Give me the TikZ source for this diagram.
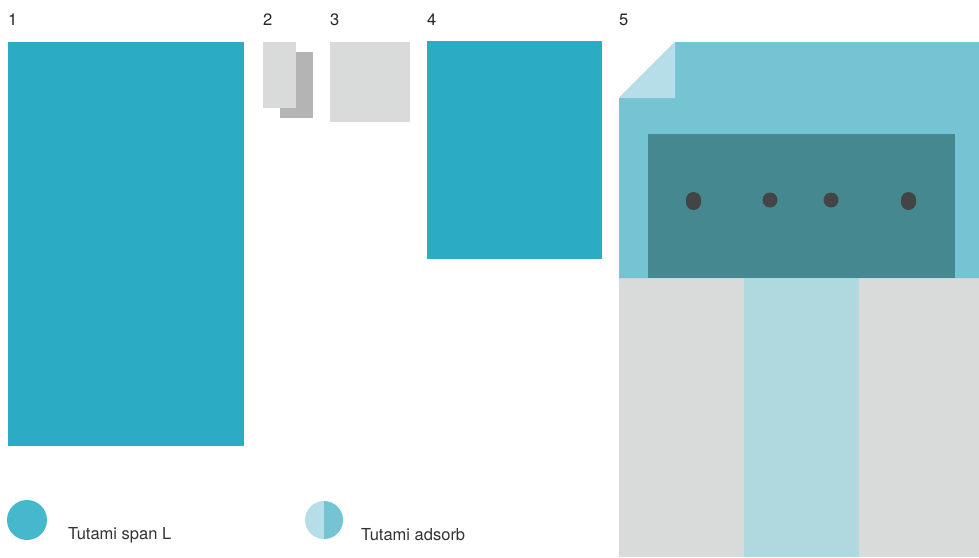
\documentclass[tikz,border=0pt]{standalone}
\usepackage{fontspec}
\setmainfont{TeX Gyre Heros}
\usetikzlibrary{positioning}
\definecolor{tealbar}{HTML}{2BABC4}
\definecolor{lightgrey}{HTML}{D9DADA}
\definecolor{midgrey}{HTML}{B3B4B3}
\definecolor{skyblue}{HTML}{74C4D3}
\definecolor{paleblue}{HTML}{B6DEE8}
\definecolor{darkteal}{HTML}{458890}
\definecolor{stripeblue}{HTML}{B0D9DF}
\definecolor{dotgrey}{HTML}{444444}
\definecolor{legendblue}{HTML}{46B8CD}

\begin{document}
\begin{tikzpicture}[x=1pt, y=-1pt,
  lbl/.style={anchor=base west, inner sep=0pt, font=\fontsize{16.5}{18}\selectfont, text=black!85},
  legendtext/.style={anchor=base west, inner sep=0pt, font=\fontsize{16.5}{18}\selectfont, text=black!80}]
  \useasboundingbox[fill=white] (0,0) rectangle (979,557);

  % panel numbers
  \foreach \x/\n/\name in {8/1/one, 263/2/two, 330/3/three, 427/4/four, 619/5/five} {
    \node[lbl] (num\name) at (\x,25) {\n};
  }

  % 1, 2, 3, 4
  \fill[tealbar] (8,42) rectangle (244,446);
  \fill[midgrey] (280,52) rectangle (313,118);
  \fill[lightgrey] (263,42) rectangle (296,108);
  \fill[lightgrey] (330,42) rectangle (410,122);
  \fill[tealbar] (427,41) rectangle (602,259);

  % 5
  \fill[lightgrey] (619,278) rectangle (979,557);
  \fill[stripeblue] (744,278) rectangle (859,557);
  \fill[skyblue] (619,98) -- (675,42) -- (979,42) -- (979,278) -- (619,278) -- cycle;
  \fill[paleblue] (619,98) -- (675,42) -- (675,98) -- cycle;
  \fill[darkteal] (648,134) rectangle (955,278);
  \fill[dotgrey, rounded corners=7.5pt] (686,192) rectangle (701,210);
  \fill[dotgrey, rounded corners=7.5pt] (901,192) rectangle (916,210);
  \fill[dotgrey] (770,200) circle (7.5);
  \fill[dotgrey] (831,200) circle (7.5);

  % legend
  \fill[legendblue] (27,520) circle (20);
  \node[legendtext] (spanL) at (68,539) {Tutami span L};
  \fill[paleblue] (324,539) arc (90:270:19) -- cycle;
  \fill[skyblue] (324,539) arc (90:-90:19) -- cycle;
  \node[legendtext] (adsorb) at (361,540) {Tutami adsorb};
\end{tikzpicture}
\end{document}
